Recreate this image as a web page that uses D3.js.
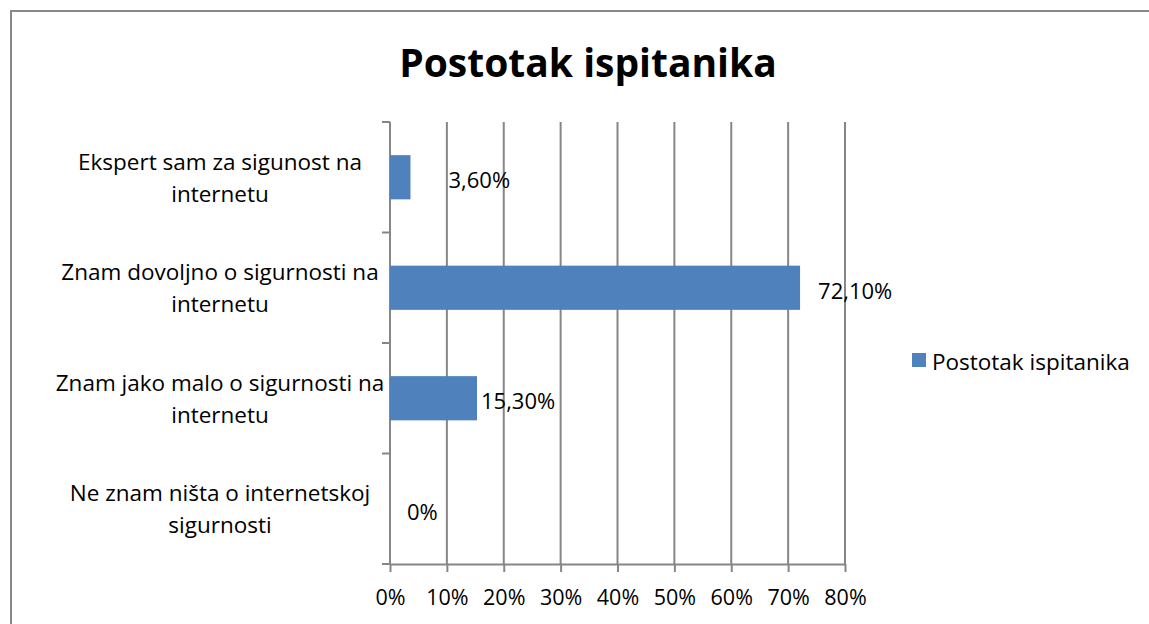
<!DOCTYPE html>
<html>
<head>
<meta charset="utf-8">
<script src="https://cdnjs.cloudflare.com/ajax/libs/d3/7.8.5/d3.min.js"></script>
<style>
  body { margin: 0; background: #fff; overflow: hidden; }
  svg { display: block; }
</style>
</head>
<body>
<div id="chart"></div>
<script>
var categories = [
  ["Ekspert sam za sigunost na", "internetu"],
  ["Znam dovoljno o sigurnosti na", "internetu"],
  ["Znam jako malo o sigurnosti na", "internetu"],
  ["Ne znam ništa o internetskoj", "sigurnosti"]
];
var values = [3.6, 72.1, 15.3, 0];
var valueLabels = ["3,60%", "72,10%", "15,30%", "0%"];
var xTicks = [0, 10, 20, 30, 40, 50, 60, 70, 80];
var seriesName = "Postotak ispitanika";

// label offsets from bar end (manual placement as in the original)
var labelDx = [38, 18, 4, 17];

var width = 1149, height = 624;
var font = "'Open Sans', sans-serif";

var svg = d3.select("#chart").append("svg")
  .attr("width", width)
  .attr("height", height);

// chart frame: only top and left edges are visible
svg.append("path")
  .attr("d", "M11," + height + "V11H" + width)
  .style("fill", "none")
  .style("stroke", "#888")
  .style("stroke-width", 2);

svg.append("text")
  .attr("x", 588).attr("y", 61)
  .attr("text-anchor", "middle")
  .attr("dominant-baseline", "central")
  .style("font-family", font)
  .style("font-weight", "bold")
  .style("font-size", "39px")
  .text(seriesName);

var x = d3.scaleLinear().domain([0, 80]).range([390, 845]);
var y = d3.scaleBand()
  .domain(d3.range(categories.length))
  .range([122, 564])
  .paddingInner(0.6)
  .paddingOuter(0.3);

// gridlines
svg.append("g").selectAll("line")
  .data(xTicks.slice(1))
  .enter().append("line")
  .attr("x1", function (d) { return x(d); })
  .attr("x2", function (d) { return x(d); })
  .attr("y1", 122).attr("y2", 564)
  .style("stroke", "#868686")
  .style("stroke-width", 2);

// x axis
var xAxis = svg.append("g")
  .attr("transform", "translate(0,564)")
  .call(d3.axisBottom(x).tickValues(xTicks).tickSize(8).tickSizeOuter(0)
    .tickFormat(function (d) { return d + "%"; }));
xAxis.select(".domain").style("stroke", "#868686").style("stroke-width", 2);
xAxis.selectAll(".tick line").style("stroke", "#868686").style("stroke-width", 2);
xAxis.selectAll(".tick text")
  .attr("y", 26)
  .style("font-family", font)
  .style("font-size", "21.5px")
  .style("fill", "#000");

// y axis line and category ticks
var bandStep = y.step();
var catEdges = d3.range(categories.length + 1).map(function (i) { return 122 + i * bandStep; });
svg.append("line")
  .attr("x1", 390).attr("x2", 390)
  .attr("y1", 122).attr("y2", 564)
  .style("stroke", "#868686").style("stroke-width", 2);
svg.append("g").selectAll("line")
  .data(catEdges)
  .enter().append("line")
  .attr("x1", 382).attr("x2", 390)
  .attr("y1", function (d) { return d; })
  .attr("y2", function (d) { return d; })
  .style("stroke", "#868686").style("stroke-width", 2);

// bars
svg.append("g").selectAll("rect")
  .data(values)
  .enter().append("rect")
  .attr("x", x(0))
  .attr("y", function (d, i) { return y(i); })
  .attr("width", function (d) { return x(d) - x(0); })
  .attr("height", y.bandwidth())
  .style("fill", "#4F81BD");

// value labels
svg.append("g").selectAll("text")
  .data(values)
  .enter().append("text")
  .attr("x", function (d, i) { return x(d) + labelDx[i]; })
  .attr("y", function (d, i) { return y(i) + y.bandwidth() / 2 + 2; })
  .attr("dominant-baseline", "central")
  .style("font-family", font)
  .style("font-size", "22px")
  .text(function (d, i) { return valueLabels[i]; });

// category labels
var catG = svg.append("g").selectAll("text")
  .data(categories)
  .enter().append("text")
  .attr("text-anchor", "middle")
  .style("font-family", font)
  .style("font-size", "22.5px");
catG.each(function (d, i) {
  var c = y(i) + y.bandwidth() / 2;
  var t = d3.select(this);
  d.forEach(function (line, j) {
    t.append("tspan")
      .attr("x", 220)
      .attr("y", c - 16 + j * 32)
      .attr("dominant-baseline", "central")
      .text(line);
  });
});

// legend
svg.append("rect")
  .attr("x", 912).attr("y", 353)
  .attr("width", 14).attr("height", 14)
  .style("fill", "#4F81BD");
svg.append("text")
  .attr("x", 932).attr("y", 361)
  .attr("dominant-baseline", "central")
  .style("font-family", font)
  .style("font-size", "22.5px")
  .text(seriesName);
</script>
</body>
</html>
